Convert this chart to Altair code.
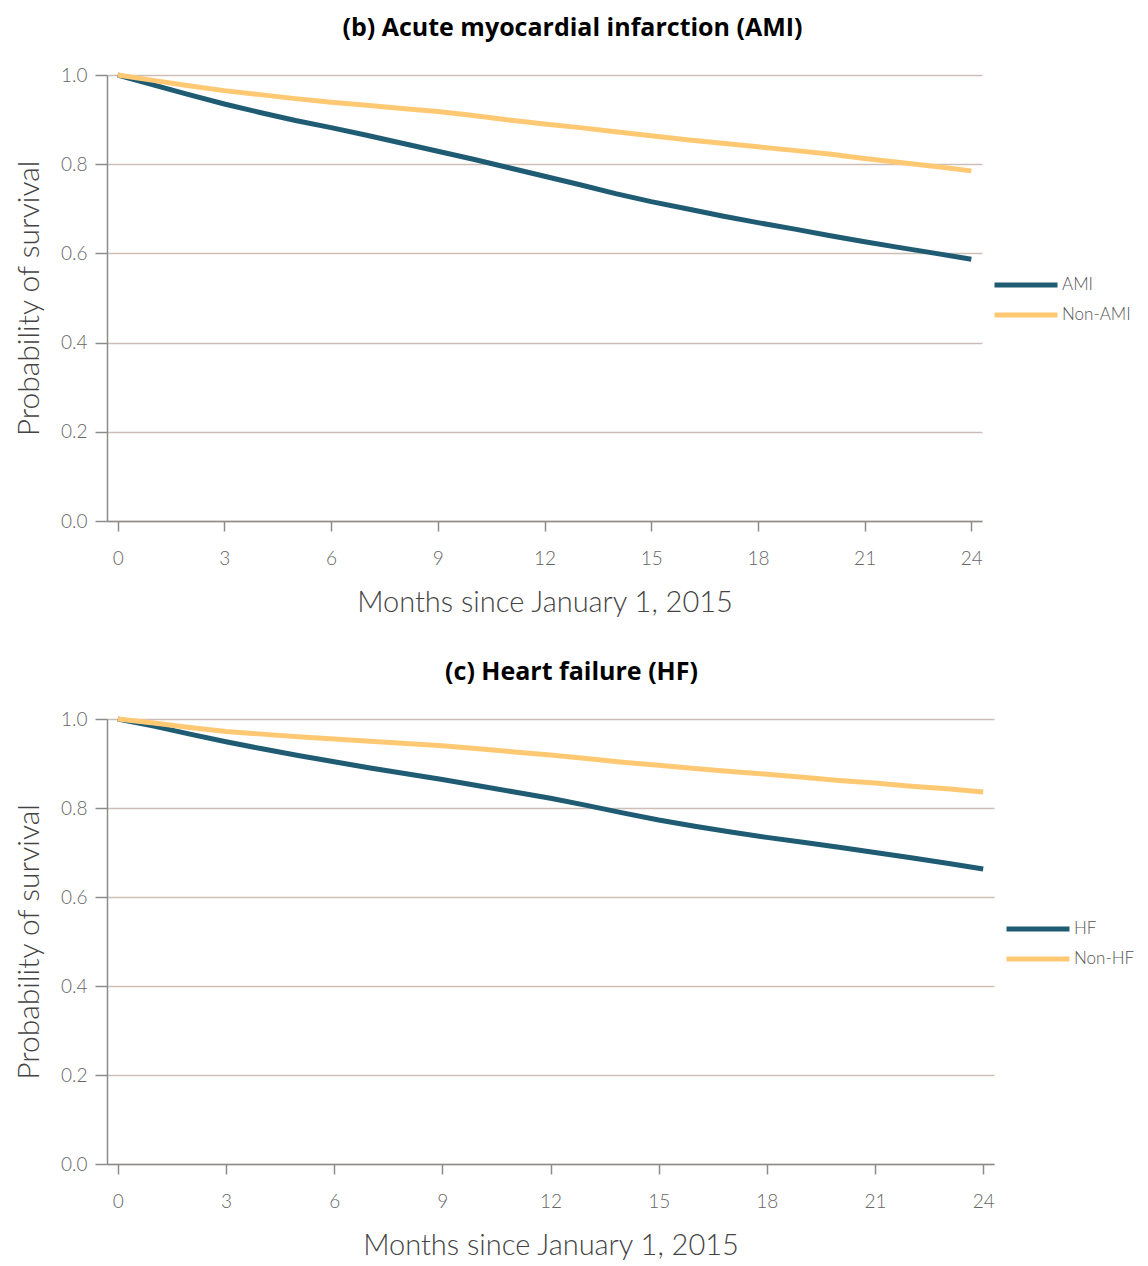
import altair as alt
import pandas as pd

months = list(range(25))

ami = [1.000, 0.978, 0.956, 0.935, 0.916, 0.898, 0.882, 0.865, 0.847, 0.829,
       0.811, 0.792, 0.773, 0.754, 0.734, 0.716, 0.700, 0.684, 0.669, 0.655,
       0.640, 0.626, 0.613, 0.600, 0.587]
non_ami = [1.000, 0.988, 0.976, 0.965, 0.956, 0.947, 0.939, 0.932, 0.925, 0.918,
           0.909, 0.899, 0.890, 0.882, 0.873, 0.864, 0.855, 0.847, 0.839, 0.831,
           0.823, 0.813, 0.804, 0.795, 0.785]
hf = [1.000, 0.984, 0.966, 0.949, 0.933, 0.918, 0.904, 0.890, 0.877, 0.864,
      0.850, 0.836, 0.822, 0.806, 0.789, 0.773, 0.759, 0.746, 0.734, 0.723,
      0.712, 0.700, 0.688, 0.676, 0.663]
non_hf = [1.000, 0.991, 0.981, 0.972, 0.966, 0.960, 0.955, 0.950, 0.945, 0.940,
          0.933, 0.926, 0.919, 0.911, 0.903, 0.896, 0.889, 0.882, 0.876, 0.869,
          0.862, 0.856, 0.849, 0.843, 0.836]

x_ticks = [0, 3, 6, 9, 12, 15, 18, 21, 24]
y_ticks = [0.0, 0.2, 0.4, 0.6, 0.8, 1.0]

DARK = "#1f5c74"
GOLD = "#ffc974"
FONT = "Lato"
TFONT = "Open Sans"


def panel(title, dx, s1, s2, v1, v2, width, height):
    df = pd.DataFrame({
        "month": months + months,
        "surv": v1 + v2,
        "group": [s1] * len(months) + [s2] * len(months),
    })
    return alt.Chart(
        df,
        title=alt.TitleParams(title, font=TFONT, fontSize=25, fontWeight="bold",
                              color="#000000", anchor="middle", dx=dx, offset=24),
    ).mark_line(strokeWidth=5, strokeCap="butt").encode(
        x=alt.X("month:Q",
                scale=alt.Scale(domain=[-0.3, 24.3], nice=False, zero=False),
                axis=alt.Axis(values=x_ticks, title="Months since January 1, 2015",
                              grid=False, domainColor="#8c8c8c", domainWidth=1.5,
                              tickColor="#8c8c8c", tickSize=10, tickWidth=1.5,
                              labelFont=FONT, labelFontSize=19, labelColor="#666666",
                              labelPadding=18, labelFontWeight=300,
                              titleFont=FONT, titleFontSize=29, titleFontWeight=300,
                              titleColor="#444444", titlePadding=20)),
        y=alt.Y("surv:Q",
                scale=alt.Scale(domain=[0, 1], nice=False),
                axis=alt.Axis(values=y_ticks, format=".1f", title="Probability of survival",
                              grid=True, gridColor="#cdbfb8", gridWidth=1.5,
                              domainColor="#8c8c8c", domainWidth=1.5,
                              tickColor="#8c8c8c", tickSize=12, tickWidth=1.5,
                              labelFont=FONT, labelFontSize=19, labelColor="#666666",
                              labelPadding=8, labelFontWeight=300,
                              titleFont=FONT, titleFontSize=30, titleFontWeight=300,
                              titleColor="#444444", titlePadding=16)),
        color=alt.Color("group:N",
                        scale=alt.Scale(domain=[s1, s2], range=[DARK, GOLD]),
                        legend=alt.Legend(title=None, orient="none",
                                          legendX=width + 10, legendY=190,
                                          symbolType="M-1,0H2.6", symbolSize=1225,
                                          symbolStrokeWidth=5, labelFont=FONT,
                                          labelFontSize=17, labelColor="#555555",
                                          labelFontWeight=300, labelOffset=30,
                                          rowPadding=0)),
    ).properties(width=width, height=height)


p1 = panel("(b) Acute myocardial infarction (AMI)", 28, "AMI", "Non-AMI", ami, non_ami, 875, 446)
p2 = panel("(c) Heart failure (HF)", 21, "HF", "Non-HF", hf, non_hf, 887, 445)

chart = (
    alt.vconcat(p1, p2, spacing=43)
    .resolve_scale(color="independent")
    .resolve_legend(color="independent")
    .configure(padding={"left": 6, "top": 8, "right": 5, "bottom": 5})
    .configure_view(stroke="transparent", strokeWidth=0)
)

chart.save("out.html", embed_options={"renderer": "svg", "actions": False})
